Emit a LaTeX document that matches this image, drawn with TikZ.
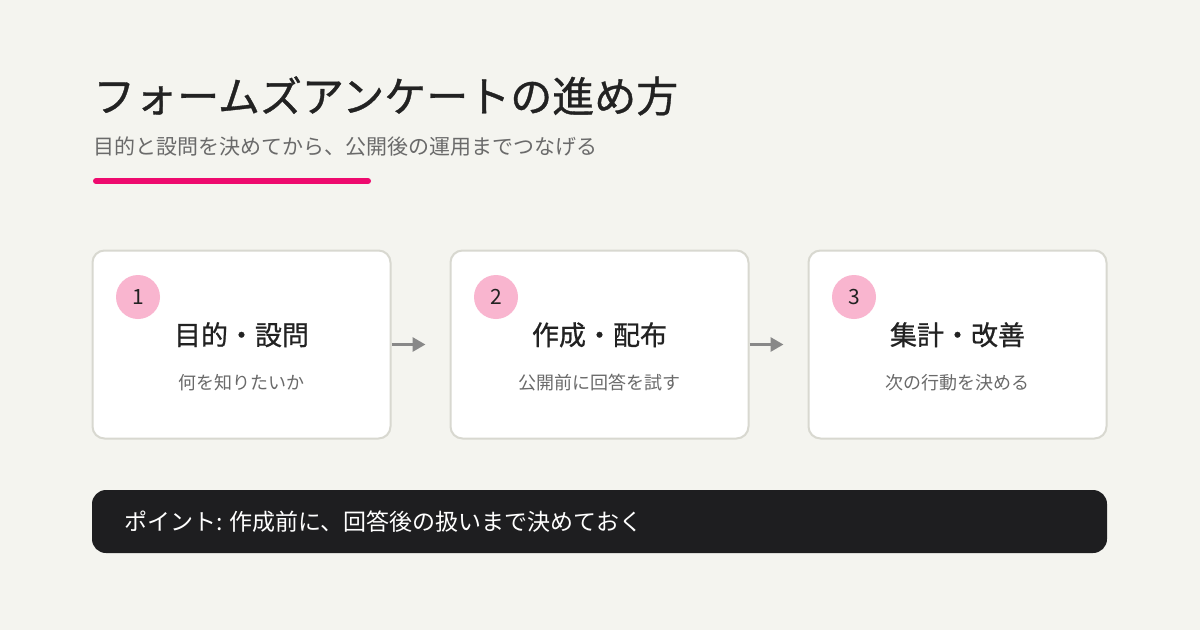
\documentclass[tikz,border=0pt]{standalone}
\usepackage{fontspec}
\setmainfont{Noto Sans CJK JP}
\newfontfamily\headfont{Noto Sans CJK JP}[FakeBold=0.8]
\usetikzlibrary{arrows.meta}

\definecolor{pagebg}{HTML}{F4F4EF}
\definecolor{ink}{HTML}{222222}
\definecolor{muted}{HTML}{6A6A6A}
\definecolor{accent}{HTML}{EE0A6E}
\definecolor{cardline}{HTML}{D8D8D0}
\definecolor{badgepink}{HTML}{F9B5CF}
\definecolor{arrowgray}{HTML}{888888}
\definecolor{barfill}{HTML}{1E1E20}

\tikzset{
  card/.style={draw=cardline, line width=2pt, fill=white, rounded corners=12pt,
    minimum width=298pt, minimum height=188pt, inner sep=0pt},
  badge/.style={circle, fill=badgepink, minimum size=44pt, inner sep=0pt,
    text=ink, font=\fontsize{21}{24}\selectfont},
  cardtitle/.style={anchor=base, inner sep=0pt, text=ink, font=\headfont\fontsize{27}{30}\selectfont},
  cardnote/.style={anchor=base, inner sep=0pt, text=muted, font=\fontsize{18}{20}\selectfont},
  flow/.style={-{Triangle[length=13pt, width=14pt]}, line width=3pt, draw=arrowgray,
    shorten >=24pt}
}

\begin{document}
\begin{tikzpicture}[x=1pt, y=-1pt]
  \fill[pagebg] (0, 0) rectangle (1200, 630);
  \useasboundingbox (0, 0) rectangle (1200, 630);

  % heading
  \node[anchor=base west, inner sep=0pt, text=ink, font=\headfont\fontsize{42}{50}\selectfont]
    (title) at (93, 112) {フォームズアンケートの進め方};
  \node[anchor=base west, inner sep=0pt, text=muted, font=\fontsize{21}{25}\selectfont]
    (subtitle) at (93, 154) {目的と設問を決めてから、公開後の運用までつなげる};
  \draw[accent, line width=6pt, line cap=round] (96, 181) -- (368, 181);

  % three steps
  \node[card] (card1) at (241.5, 344.5) {};
  \node[card] (card2) at (599.5, 344.5) {};
  \node[card] (card3) at (957.5, 344.5) {};

  \node[badge] (num1) at (138, 297) {1};
  \node[badge] (num2) at (496, 297) {2};
  \node[badge] (num3) at (854, 297) {3};

  \node[cardtitle] (head1) at (241.5, 345) {目的・設問};
  \node[cardtitle] (head2) at (599.5, 345) {作成・配布};
  \node[cardtitle] (head3) at (957.5, 345) {集計・改善};

  \node[cardnote] (note1) at (241.5, 389) {何を知りたいか};
  \node[cardnote] (note2) at (599.5, 389) {公開前に回答を試す};
  \node[cardnote] (note3) at (957.5, 389) {次の行動を決める};

  \draw[flow] (card1) -- (card2);
  \draw[flow] (card2) -- (card3);

  % takeaway bar
  \node[fill=barfill, rounded corners=14pt, minimum width=1015pt, minimum height=63pt,
    inner sep=0pt] (bar) at (599.5, 521.5) {};
  \node[anchor=base west, inner sep=0pt, text=white, font=\fontsize{23}{27}\selectfont]
    (point) at (124, 530) {ポイント: 作成前に、回答後の扱いまで決めておく};
\end{tikzpicture}
\end{document}
